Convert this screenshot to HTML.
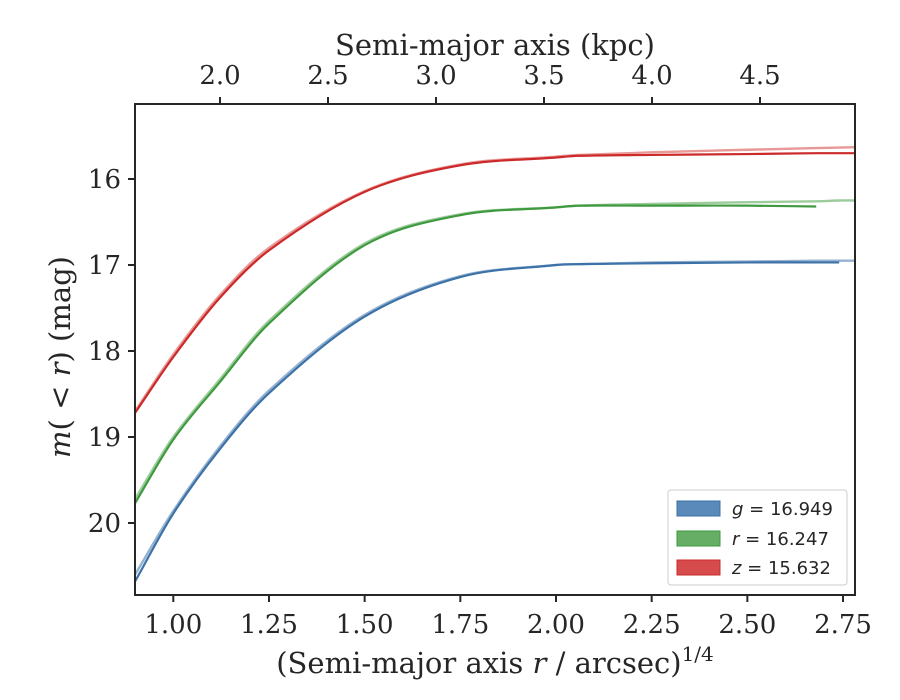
<!DOCTYPE html>
<html><head><meta charset="utf-8"><style>
body{margin:0;background:#fff}
svg text{font-family:"DejaVu Serif","Liberation Serif",serif;fill:#262626}
</style></head><body>
<svg id="c" width="900" height="700" style="position:absolute;left:0;top:0" xmlns="http://www.w3.org/2000/svg"></svg>
<script>
const xs=[0.9,1.0,1.12,1.25,1.5,1.75,2.0,2.06,2.25,2.5,2.68,2.74,2.78];
const zDark=[18.72,18.07,17.39,16.83,16.15,15.84,15.75,15.73,15.72,15.71,15.70,15.70,15.70];
const zLight=[18.70,18.04,17.36,16.80,16.14,15.83,15.74,15.72,15.69,15.66,15.64,15.635,15.63];
const rDark=[19.77,19.03,18.37,17.68,16.77,16.42,16.33,16.31,16.31,16.31,16.32,null,null];
const rLight=[19.72,19.0,18.34,17.65,16.75,16.41,16.33,16.31,16.29,16.27,16.26,16.25,16.25];
const gDark=[20.68,19.89,19.15,18.49,17.60,17.14,17.0,16.99,16.98,16.97,16.97,16.97,null];
const gLight=[20.6,19.86,19.12,18.46,17.58,17.13,17.0,16.99,16.97,16.96,16.95,16.95,16.95];
const xTicks=[1.0,1.25,1.5,1.75,2.0,2.25,2.5,2.75];
const topTicks=[2.0,2.5,3.0,3.5,4.0,4.5];
const yTicks=[16,17,18,19,20];
const L=135,R=855,T=104,B=595;
const X=v=>173.3+(v-1)*382.7;
const Y=m=>179+(m-16)*86;
const TX=k=>220+(k-2)*216;
const svg=document.getElementById('c');
const NS='http://www.w3.org/2000/svg';
function el(t,a,p){const e=document.createElementNS(NS,t);for(const k in a)e.setAttribute(k,a[k]);(p||svg).appendChild(e);return e;}
const clip=el('clipPath',{id:'cl'});el('rect',{x:L,y:T,width:R-L,height:B-T},clip);
function path(vals,col,op,w,name){
  const pts=[];xs.forEach((x,i)=>{if(vals[i]!=null)pts.push([X(x),Y(vals[i])]);});
  let d='M'+pts[0][0]+','+pts[0][1];
  for(let i=0;i<pts.length-1;i++){
    const p0=pts[i-1]||pts[i],p1=pts[i],p2=pts[i+1],p3=pts[i+2]||p2;
    const h=p2[0]-p1[0];
    const m1=(p2[1]-p0[1])/(p2[0]-p0[0]||1), m2=(p3[1]-p1[1])/(p3[0]-p1[0]||1);
    d+=' C'+(p1[0]+h/3)+','+(p1[1]+m1*h/3)+' '+(p2[0]-h/3)+','+(p2[1]-m2*h/3)+' '+p2[0]+','+p2[1];
  }
  const e=el('path',{d:d,fill:'none',stroke:col,'stroke-width':w,'stroke-opacity':op,'clip-path':'url(#cl)'});
  
  
}
path(gLight,'#4e7fb0',0.6,2.4,'g-band-model');path(gDark,'#3c72a8',1,2.2,'g-band-curve');
path(rLight,'#5aa85a',0.6,2.4,'r-band-model');path(rDark,'#3f9a3f',1,2.2,'r-band-curve');
path(zLight,'#d9534f',0.6,2.4,'z-band-model');path(zDark,'#cc2a2a',1,2.2,'z-band-curve');
el('rect',{x:L,y:T,width:R-L,height:B-T,fill:'none',stroke:'#262626','stroke-width':2});
xTicks.forEach(v=>{const x=X(v);el('line',{x1:x,x2:x,y1:B,y2:B+7,stroke:'#262626','stroke-width':2});
 const t=el('text',{x:x,y:B+38,'text-anchor':'middle','font-size':26});t.textContent=v.toFixed(2);
 });
topTicks.forEach(v=>{const x=TX(v);el('line',{x1:x,x2:x,y1:T,y2:T-7,stroke:'#262626','stroke-width':2});
 const t=el('text',{x:x,y:T-20,'text-anchor':'middle','font-size':26});t.textContent=v.toFixed(1);
 });
yTicks.forEach(v=>{const y=Y(v);el('line',{x1:L,x2:L-7,y1:y,y2:y,stroke:'#262626','stroke-width':2});
 const t=el('text',{x:L-14,y:y+9,'text-anchor':'end','font-size':26});t.textContent=v;
 });
</script>
<svg width="900" height="700" style="position:absolute;left:0;top:0" xmlns="http://www.w3.org/2000/svg">
<text x="495" y="55" text-anchor="middle" font-size="29">Semi-major axis (kpc)</text>
<text x="495" y="673" text-anchor="middle" font-size="29">(Semi-major axis <tspan font-style="italic">r</tspan> / arcsec)<tspan dy="-12" font-size="20">1/4</tspan></text>
<text transform="translate(70,357) rotate(-90)" text-anchor="middle" font-size="29"><tspan font-style="italic">m</tspan>( &lt; <tspan font-style="italic">r</tspan>) (mag)</text>
<g>
<rect x="668" y="490" width="179" height="95" rx="3" fill="#fff" stroke="#ccc"/>
<rect x="677" y="501" width="43" height="15" fill="#5a8ab9" stroke="#3c72a8"/>
<rect x="677" y="531" width="43" height="15" fill="#66ad66" stroke="#3f9a3f"/>
<rect x="677" y="560" width="43" height="15" fill="#d64c4c" stroke="#cc2a2a"/>
<text x="732" y="515" font-size="18" style="font-family:'DejaVu Sans',sans-serif"><tspan font-style="italic">g</tspan> = 16.949</text>
<text x="732" y="545" font-size="18" style="font-family:'DejaVu Sans',sans-serif"><tspan font-style="italic">r</tspan> = 16.247</text>
<text x="732" y="574" font-size="18" style="font-family:'DejaVu Sans',sans-serif"><tspan font-style="italic">z</tspan> = 15.632</text>
</g>
</svg>
</body></html>
